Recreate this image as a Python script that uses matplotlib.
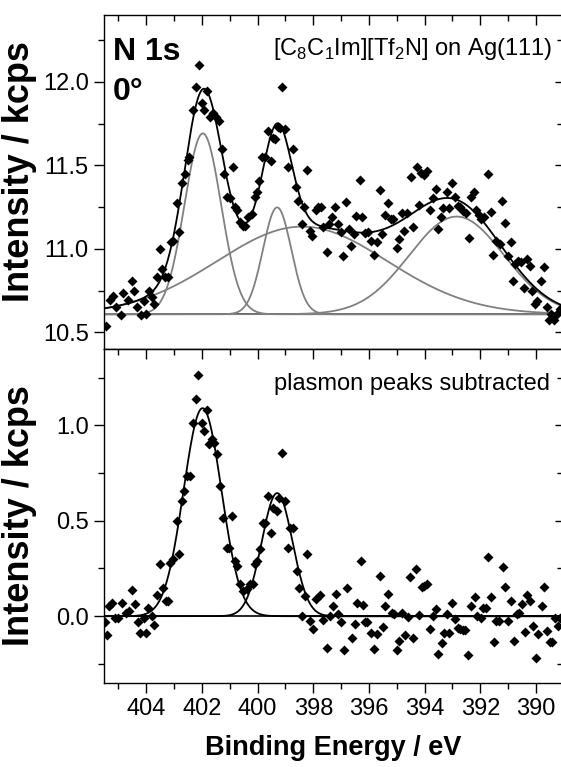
import numpy as np
import matplotlib
matplotlib.use("Agg")
import matplotlib.pyplot as plt
from matplotlib.ticker import MultipleLocator, FormatStrFormatter

plt.rcParams['font.family'] = ['Liberation Sans', 'DejaVu Sans']
plt.rcParams['mathtext.fontset'] = 'custom'
plt.rcParams['mathtext.rm'] = 'Liberation Sans'

# ---------------- data: top panel (measured N 1s, raw) ----------------
top_be = [405.44, 405.32, 405.21, 405.09, 404.92, 404.82, 404.64, 404.52, 404.43, 404.32,
          404.20, 404.10, 404.01, 403.92, 403.80, 403.72, 403.63, 403.51, 403.45, 403.33,
          403.21, 403.12, 403.03, 402.91, 402.81, 402.73, 402.61, 402.52, 402.45, 402.31,
          402.21, 402.12, 402.01, 401.93, 401.81, 401.71, 401.59, 401.49, 401.40, 401.29,
          401.21, 401.11, 400.99, 400.90, 400.81, 400.73, 400.63, 400.54, 400.45, 400.33,
          400.21, 400.09, 400.01, 399.94,
          399.83, 399.74, 399.62, 399.52, 399.44, 399.36, 399.28, 399.20, 399.12, 399.02,
          398.92, 398.72, 398.64, 398.54, 398.42, 398.33, 398.21, 398.12, 398.04, 397.92,
          397.82, 397.73, 397.64, 397.52, 397.44, 397.32, 397.23, 397.13, 397.01, 396.93,
          396.84, 396.72, 396.63, 396.53, 396.45, 396.33, 396.24, 396.15, 396.05, 395.93,
          395.81, 395.73, 395.61, 395.52, 395.43, 395.33, 395.21, 395.13, 395.01, 394.93,
          394.83, 394.74, 394.62,
          394.50, 394.41, 394.29, 394.21, 394.14, 394.02, 393.93, 393.81, 393.69, 393.61,
          393.51, 393.42, 393.33, 393.21, 393.12, 393.00, 392.92, 392.82, 392.74, 392.62,
          392.50, 392.41, 392.32, 392.22, 392.14, 392.05, 391.96, 391.86, 391.72, 391.62,
          391.53, 391.42, 391.30, 391.22, 391.12, 391.00, 390.91, 390.82, 390.74, 390.64,
          390.55, 390.43, 390.34, 390.22, 390.14, 390.04, 389.95, 389.83, 389.71, 389.62,
          389.54, 389.45, 389.35, 389.23, 389.15]
top_int = [10.539, 10.693, 10.719, 10.649, 10.605, 10.733, 10.693, 10.809, 10.745, 10.649,
           10.605, 10.689, 10.609, 10.745, 10.709, 10.669, 10.829, 10.998, 10.879, 10.829,
           10.829, 11.038, 11.048, 11.272, 11.098, 11.392, 11.447, 11.531, 11.547, 11.831,
           11.966, 12.102, 11.871, 11.831, 11.946, 11.787, 11.811, 11.787, 11.763, 11.597,
           11.447, 11.308, 11.304, 11.487, 11.248, 11.232, 11.158, 11.138, 11.138, 11.188,
           11.208, 11.308, 11.338, 11.408,
           11.551, 11.551, 11.707, 11.527, 11.663, 11.657, 11.731, 11.723, 11.970, 11.717,
           11.487, 11.597, 11.368, 11.284, 11.148, 11.248, 11.471, 11.108, 11.078, 11.232,
           11.248, 11.252, 11.128, 10.978, 11.148, 11.192, 11.252, 11.148, 11.098, 10.958,
           11.278, 11.118, 11.018, 11.088, 11.198, 11.412, 11.188, 11.092, 11.098, 11.048,
           10.964, 11.038, 11.352, 11.088, 11.204, 11.272, 11.178, 11.178, 11.004, 11.058,
           11.212, 11.108, 11.212,
           11.432, 11.128, 11.491, 11.264, 11.452, 11.443, 11.463, 11.232, 11.304, 11.358,
           11.118, 11.188, 11.244, 11.338, 11.244, 11.394, 11.308, 11.258, 11.248, 11.228,
           11.212, 11.064, 11.308, 11.338, 11.232, 11.204, 11.178, 11.188, 11.447, 11.218,
           10.964, 11.044, 11.028, 11.284, 11.152, 10.958, 11.038, 10.809, 10.909, 10.925,
           10.919, 10.765, 10.939, 10.899, 10.749, 10.669, 10.685, 10.805, 10.889, 10.649,
           10.573, 10.609, 10.573, 10.609, 10.639]

# fit components of top panel: N 1s peaks + plasmon peaks (center, height, FWHM)
top_background = 10.608
top_centers = [401.97, 399.30, 398.40, 392.85]
top_heights = [1.083, 0.640, 0.525, 0.585]
top_fwhm = [1.55, 1.20, 7.20, 4.00]

# ---------------- data: bottom panel (plasmon peaks subtracted) ----------------
bot_be = [405.48, 405.42, 405.33, 405.24, 405.12, 405.00, 404.88, 404.73, 404.61, 404.52,
          404.40, 404.31, 404.22, 404.10, 404.01, 403.93, 403.81, 403.72, 403.63, 403.51,
          403.41, 403.29, 403.21, 403.15, 403.03, 402.91, 402.81, 402.73, 402.63, 402.55,
          402.43, 402.33, 402.21, 402.13, 402.01, 401.91, 401.83, 401.74, 401.65, 401.57,
          401.47, 401.35, 401.23, 401.11, 401.02, 400.93, 400.81, 400.75, 400.63, 400.51,
          400.39, 400.27, 400.18, 400.10, 400.04, 399.92, 399.82, 399.74, 399.62, 399.52,
          399.44, 399.32, 399.22, 399.14, 399.02, 398.90, 398.84, 398.72, 398.60, 398.50,
          398.42, 398.30, 398.24, 398.12, 398.02, 397.91, 397.76, 397.64, 397.52, 397.40,
          397.31, 397.19, 397.10, 397.02, 396.90, 396.80, 396.62, 396.50, 396.42, 396.30,
          396.21, 396.15, 396.06, 395.91, 395.82, 395.73, 395.61, 395.51, 395.43, 395.31,
          395.19, 395.10, 395.01, 394.91, 394.83, 394.71, 394.59, 394.51, 394.41, 394.31,
          394.19, 394.11, 394.02, 393.91, 393.81, 393.69, 393.60, 393.51, 393.39, 393.31,
          393.21, 393.12, 393.00, 392.91, 392.82, 392.73, 392.61, 392.55, 392.43, 392.32,
          392.20, 392.11, 391.99, 391.90, 391.80, 391.72, 391.60, 391.51, 391.42, 391.32,
          391.20, 391.12, 391.00, 390.91, 390.80, 390.70, 390.60, 390.52, 390.40, 390.32,
          390.22, 390.10, 390.01, 389.92, 389.80, 389.72, 389.62, 389.50, 389.41, 389.32,
          389.20, 389.14]
bot_int = [-0.030, -0.098, 0.054, 0.071, -0.007, -0.007, 0.071, 0.019, 0.027, 0.138,
           0.063, -0.033, -0.086, -0.007, -0.086, 0.045, 0.001, -0.047, 0.110, 0.272,
           0.150, 0.080, 0.080, 0.281, 0.298, 0.499, 0.324, 0.604, 0.656, 0.734,
           0.734, 1.014, 1.136, 1.262, 1.014, 0.970, 1.078, 0.900, 0.926, 0.909,
           0.848, 0.682, 0.516, 0.359, 0.359, 0.525, 0.289, 0.263, 0.167, 0.132,
           0.141, 0.167, 0.167, 0.272, 0.289, 0.351, 0.490, 0.490, 0.630, 0.438,
           0.569, 0.551, 0.621, 0.857, 0.604, 0.359, 0.464, 0.464, 0.237, 0.150,
           0.001, 0.106, 0.324, -0.025, -0.068, 0.089, 0.110, -0.021, -0.164, 0.001,
           0.054, 0.115, 0.014, -0.033, -0.177, 0.150, -0.112, -0.042, 0.071, 0.289,
           0.057, -0.033, -0.033, -0.086, -0.170, -0.095, 0.211, -0.054, 0.054, 0.115,
           0.019, 0.010, -0.177, -0.129, 0.015, -0.098, -0.002, 0.207, -0.112, 0.246,
           0.005, 0.155, 0.159, 0.167, -0.065, 0.001, 0.040, -0.199, -0.142, -0.089,
           0.010, -0.089, 0.071, -0.016, -0.060, -0.068, -0.072, -0.072, -0.204, 0.054,
           0.101, 0.001, -0.007, 0.045, 0.045, 0.312, 0.101, -0.135, -0.025, -0.025,
           0.260, 0.155, -0.025, 0.080, -0.129, 0.010, 0.015, 0.063, -0.082, 0.110,
           0.080, -0.051, -0.217, -0.095, 0.054, 0.155, -0.077, -0.135, -0.135, -0.007,
           -0.051, -0.007]

bot_centers = [401.98, 399.30]
bot_heights = [1.090, 0.645]
bot_fwhm = [1.60, 1.30]

x_min, x_max = 405.52, 389.03
top_ylim = (10.40, 12.40)
bot_ylim = (-0.35, 1.40)
xticks_major = [404, 402, 400, 398, 396, 394, 392, 390]


def peak(x, c, h, w):
    return h * np.exp(-4.0 * np.log(2.0) * ((x - c) / w) ** 2)


fig = plt.figure(figsize=(5.61, 7.67), dpi=100)
W, H = 561.0, 767.0
left, right = 104 / W, 563 / W
ax1 = fig.add_axes([left, 1 - 349 / H, right - left, (349 - 15) / H])
ax2 = fig.add_axes([left, 1 - 683 / H, right - left, (683 - 349) / H])

xx = np.linspace(405.8, 388.8, 1200)
gray = '#808080'
MS = 5.2

# top panel
ax1.axhline(top_background, color='black', lw=1.2, zorder=2)
total = np.full_like(xx, top_background)
for c, h, w in zip(top_centers, top_heights, top_fwhm):
    comp = peak(xx, c, h, w)
    total += comp
    ax1.plot(xx, top_background + comp, color=gray, lw=1.3, zorder=2)
ax1.plot(top_be, top_int, ls='none', marker='D', ms=MS, color='black', mec='none', zorder=3)
ax1.plot(xx, total, color='black', lw=1.3, zorder=4)
ax1.set_ylim(*top_ylim)

# bottom panel
ax2.axhline(0.0, color='black', lw=1.2, zorder=2)
for c, h, w in zip(bot_centers, bot_heights, bot_fwhm):
    ax2.plot(xx, peak(xx, c, h, w), color='black', lw=1.3, zorder=4)
ax2.plot(bot_be, bot_int, ls='none', marker='D', ms=MS, color='black', mec='none', zorder=3)
ax2.set_ylim(*bot_ylim)

for ax in (ax1, ax2):
    ax.set_xlim(x_min, x_max)
    ax.xaxis.set_major_locator(MultipleLocator(2))
    ax.xaxis.set_minor_locator(MultipleLocator(1))
    ax.yaxis.set_major_locator(MultipleLocator(0.5))
    ax.yaxis.set_minor_locator(MultipleLocator(0.25))
    ax.yaxis.set_major_formatter(FormatStrFormatter('%.1f'))
    for s in ax.spines.values():
        s.set_linewidth(1.0)
    ax.tick_params(which='both', width=1.0, labelsize=17)
    ax.tick_params(axis='y', which='major', direction='out', length=7, left=True, right=False, pad=4)
    ax.tick_params(axis='y', which='minor', direction='out', length=4.5, left=True, right=False)
    sec = ax.secondary_yaxis('right')
    sec.yaxis.set_major_locator(MultipleLocator(0.5))
    sec.yaxis.set_minor_locator(MultipleLocator(0.25))
    sec.spines['right'].set_linewidth(1.0)
    sec.tick_params(which='both', direction='in', width=1.0, labelright=False)
    sec.tick_params(which='major', length=6)
    sec.tick_params(which='minor', length=4)

# x ticks: top panel only inward on top
ax1.tick_params(axis='x', which='both', direction='in', top=True, bottom=False,
                labelbottom=False, labeltop=False)
ax1.tick_params(axis='x', which='major', length=7)
ax1.tick_params(axis='x', which='minor', length=4.5)
ax2.tick_params(axis='x', which='both', direction='out', bottom=True, top=False, pad=4)
ax2.tick_params(axis='x', which='major', length=7)
ax2.tick_params(axis='x', which='minor', length=4.5)
sx = ax2.secondary_xaxis('top')
sx.xaxis.set_major_locator(MultipleLocator(2))
sx.xaxis.set_minor_locator(MultipleLocator(1))
sx.tick_params(which='both', direction='in', width=1.0, labeltop=False)
sx.tick_params(which='major', length=7)
sx.tick_params(which='minor', length=4.5)
ax2.set_xticks(xticks_major)
ax2.set_xticklabels([str(v) for v in xticks_major])

YL = 26
ax1.set_ylabel('Intensity / kcps', fontsize=YL, fontweight='bold')
ax2.set_ylabel('Intensity / kcps', fontsize=YL, fontweight='bold')
ax1.yaxis.set_label_coords(-0.145, 0.53)
ax2.yaxis.set_label_coords(-0.145, 0.5)
ax2.set_xlabel('Binding Energy / eV', fontsize=19.5, fontweight='bold')
ax2.xaxis.set_label_coords(0.5, -0.195)
ax2.xaxis.label.set_va('center')

ax1.text(0.0196, 0.865, 'N 1s', transform=ax1.transAxes, fontsize=23, fontweight='bold',
         ha='left', va='baseline')
ax1.text(0.0196, 0.746, '0°', transform=ax1.transAxes, fontsize=23, fontweight='bold',
         ha='left', va='baseline')
ax1.text(0.976, 0.880, r'[C$_\mathregular{8}$C$_\mathregular{1}$Im][Tf$_\mathregular{2}$N] on Ag(111)',
         transform=ax1.transAxes, fontsize=17, ha='right', va='baseline')
ax2.text(0.972, 0.877, 'plasmon peaks subtracted', transform=ax2.transAxes, fontsize=17,
         ha='right', va='baseline')

fig.savefig('out.png', dpi=100)
